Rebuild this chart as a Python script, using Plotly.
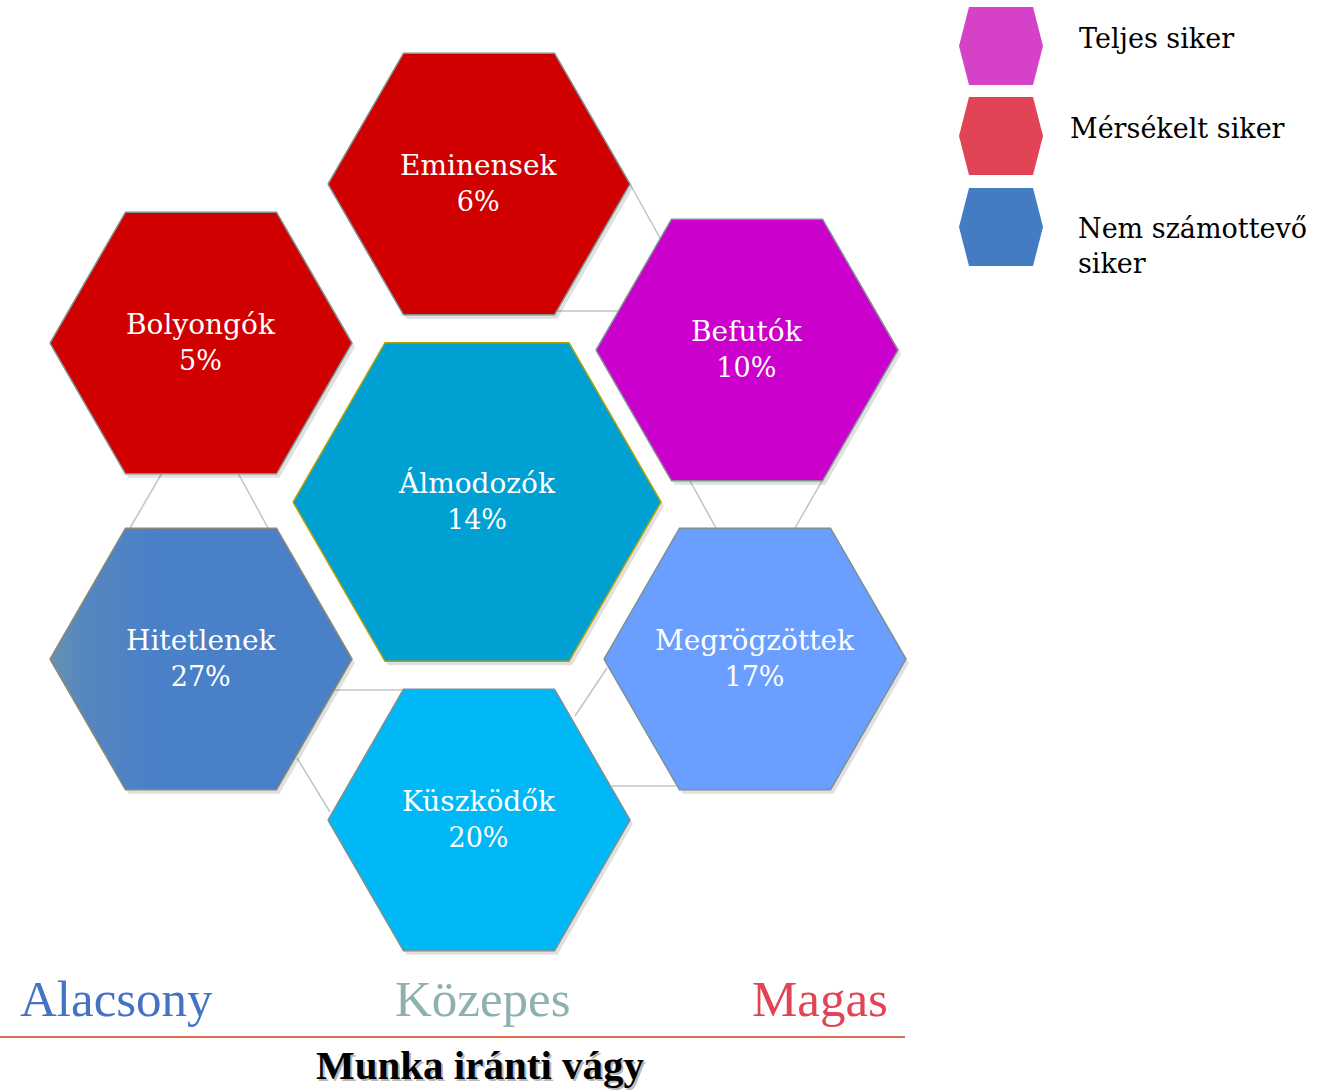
import plotly.graph_objects as go

# ---- data ----
names = ["Eminensek", "Bolyongók", "Befutók", "Álmodozók", "Hitetlenek", "Megrögzöttek", "Küszködők"]
percents = [6, 5, 10, 14, 27, 17, 20]
hex_colors = ["#D00000", "#D00000", "#CC00CC", "#00A0D2", "#4A80C8", "#6A9EFF", "#00B8F5"]
legend_labels = ["Teljes siker", "Mérsékelt siker", "Nem számottevő<br>siker"]
legend_colors = ["#D542C8", "#E04455", "#447CC4"]
axis_labels = ["Alacsony", "Közepes", "Magas"]
axis_label_colors = ["#4472C4", "#8FB0B0", "#E04455"]
axis_title = "Munka iránti vágy"

# ---- layout (pixel positions) ----
centers = [(479, 184), (201, 343), (747, 350), (477, 502), (201, 659), (755, 659), (479, 820)]
widths = [302, 302, 302, 368, 302, 302, 302]
outlines = ["#7F9090", "#7F9090", "#7F9090", "#B8A000", "#8A8A70", "#7F9090", "#7F9090"]
legend_centers = [(1001, 46), (1001, 136), (1001, 227)]
legend_text_pos = [(1077, 38), (1068, 128), (1076, 246)]
axis_label_x = [18, 483, 890]
connectors = [
    ((630, 184), (660, 238)), ((556, 311), (625, 311)),
    ((162, 473), (130, 528)), ((238, 473), (268, 528)),
    ((690, 481), (716, 528)), ((822, 481), (795, 528)),
    ((335, 690), (402, 690)), ((297, 758), (330, 812)),
    ((575, 716), (607, 668)), ((612, 786), (676, 786)),
]

SERIF = "DejaVu Serif"


def hexagon(cx, cy, w, h, inset=None):
    if inset is None:
        inset = w / 4
    xs = [cx - w / 2, cx - w / 2 + inset, cx + w / 2 - inset, cx + w / 2, cx + w / 2 - inset, cx - w / 2 + inset, cx - w / 2]
    ys = [cy, cy - h / 2, cy - h / 2, cy, cy + h / 2, cy + h / 2, cy]
    return xs, ys


fig = go.Figure()

# connector lines
for (x0, y0), (x1, y1) in connectors:
    fig.add_trace(go.Scatter(x=[x0, x1], y=[y0, y1], mode="lines",
                             line=dict(color="#BCC6C6", width=1.5), hoverinfo="skip", showlegend=False))

# shadows
for (cx, cy), w in zip(centers, widths):
    h = w * 3 ** 0.5 / 2
    xs, ys = hexagon(cx + 3, cy + 4, w, h)
    fig.add_trace(go.Scatter(x=xs, y=ys, mode="lines", fill="toself", fillcolor="rgba(0,0,0,0.12)",
                             line=dict(width=0, color="rgba(0,0,0,0)"), hoverinfo="skip", showlegend=False))

# hexagons
for i, ((cx, cy), w) in enumerate(zip(centers, widths)):
    h = w * 3 ** 0.5 / 2
    xs, ys = hexagon(cx, cy, w, h)
    kw = {}
    if names[i] == "Hitetlenek":
        kw["fillgradient"] = dict(type="horizontal",
                                  colorscale=[[0, "#6690B4"], [0.12, "#5686C0"], [0.35, hex_colors[i]], [1, hex_colors[i]]])
    else:
        kw["fillcolor"] = hex_colors[i]
    fig.add_trace(go.Scatter(x=xs, y=ys, mode="lines", fill="toself",
                             line=dict(width=1.5, color=outlines[i]),
                             hoverinfo="skip", showlegend=False, **kw))
    fig.add_annotation(x=cx, y=cy - 1,
                       text=f"{names[i]}<br><span style='font-size:27px'>{percents[i]}%</span>",
                       showarrow=False,
                       font=dict(family=SERIF, size=28, color="white"), xanchor="center", yanchor="middle")

# legend
for (cx, cy), col, lab, (tx, ty) in zip(legend_centers, legend_colors, legend_labels, legend_text_pos):
    xs, ys = hexagon(cx, cy, 84, 78, inset=10)
    fig.add_trace(go.Scatter(x=xs, y=ys, mode="lines", fill="toself", fillcolor=col,
                             line=dict(width=0, color=col), hoverinfo="skip", showlegend=False))
    fig.add_annotation(x=tx, y=ty, text=lab, showarrow=False, align="left",
                       font=dict(family=SERIF, size=27, color="black"), xanchor="left", yanchor="middle")

# axis labels
anchors = ["left", "center", "right"]
for lab, col, x, a in zip(axis_labels, axis_label_colors, axis_label_x, anchors):
    fig.add_annotation(x=x, y=999, text=lab, showarrow=False,
                       font=dict(family="Liberation Serif", size=51, color=col), xanchor=a, yanchor="middle")

fig.add_trace(go.Scatter(x=[0, 905], y=[1037, 1037], mode="lines",
                         line=dict(color="#E07050", width=2), hoverinfo="skip", showlegend=False))

# title with shadow
fig.add_annotation(x=482, y=1067, text=f"<b>{axis_title}</b>", showarrow=False,
                   font=dict(family="Liberation Serif", size=41, color="rgba(0,0,0,0.3)"),
                   xanchor="center", yanchor="middle")
fig.add_annotation(x=480, y=1065, text=f"<b>{axis_title}</b>", showarrow=False,
                   font=dict(family="Liberation Serif", size=41, color="black"),
                   xanchor="center", yanchor="middle")

fig.update_layout(
    width=1332, height=1092,
    margin=dict(l=0, r=0, t=0, b=0),
    paper_bgcolor="white", plot_bgcolor="white",
    xaxis=dict(range=[0, 1332], visible=False, fixedrange=True),
    yaxis=dict(range=[1092, 0], visible=False, fixedrange=True),
    showlegend=False,
)

fig.write_html("out.html", post_script="document.body.style.margin='0';", config={"displayModeBar": False})
